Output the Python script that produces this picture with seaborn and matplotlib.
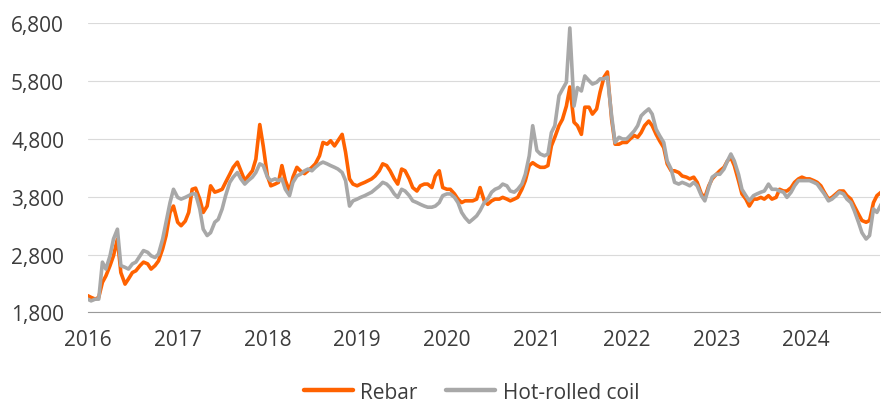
import pandas as pd
import matplotlib.pyplot as plt
import matplotlib.dates as mdates
import matplotlib.ticker as mticker
import seaborn as sns

# semi-monthly readings (1st and 15th of each month), Jan 2016 - Nov 2024
dates = pd.date_range('2016-01-01', '2024-11-01', freq='SMS')

rebar = [
    # 2016
    2090, 2060, 2030, 2060, 2320, 2430, 2610, 2780, 3070, 2490, 2290, 2380,
    2490, 2520, 2610, 2670, 2640, 2550, 2610, 2690, 2900, 3130, 3530, 3640,
    # 2017
    3360, 3300, 3380, 3530, 3930, 3950, 3760, 3530, 3640, 3990, 3880, 3900,
    3930, 4050, 4190, 4310, 4400, 4250, 4080, 4160, 4250, 4450, 5050, 4680,
    # 2018
    4160, 3990, 4020, 4050, 4340, 4080, 3900, 4140, 4310, 4250, 4200, 4250,
    4310, 4370, 4510, 4740, 4710, 4770, 4680, 4770, 4880, 4570, 4110, 4020,
    # 2019
    3990, 4020, 4050, 4080, 4110, 4160, 4250, 4370, 4340, 4250, 4110, 4020,
    4280, 4250, 4110, 3960, 3900, 3990, 4020, 4020, 3960, 4160, 4250, 3960,
    # 2020
    3930, 3930, 3850, 3760, 3700, 3730, 3730, 3730, 3760, 3960, 3730, 3670,
    3730, 3760, 3760, 3790, 3760, 3730, 3760, 3790, 3930, 4080, 4340, 4390,
    # 2021
    4340, 4310, 4310, 4340, 4680, 4830, 5030, 5140, 5370, 5700, 5090, 5030,
    4880, 5350, 5350, 5230, 5320, 5610, 5870, 5960, 5140, 4710, 4710, 4740,
    # 2022
    4740, 4800, 4860, 4830, 4910, 5030, 5110, 5030, 4880, 4770, 4650, 4370,
    4250, 4250, 4220, 4160, 4140, 4110, 4140, 4050, 3850, 3790, 3990, 4110,
    # 2023
    4190, 4250, 4310, 4420, 4480, 4340, 4080, 3850, 3760, 3640, 3760, 3760,
    3790, 3760, 3820, 3760, 3790, 3930, 3900, 3900, 3960, 4050, 4110, 4140,
    # 2024
    4110, 4110, 4080, 4050, 3990, 3880, 3760, 3790, 3850, 3900, 3900, 3820,
    3760, 3640, 3500, 3390, 3360, 3390, 3700, 3820, 3880,
]

hot_rolled = [
    # 2016
    2030, 2000, 2030, 2030, 2670, 2550, 2780, 3070, 3240, 2610, 2580, 2550,
    2640, 2670, 2780, 2870, 2840, 2780, 2750, 2810, 3070, 3360, 3700, 3930,
    # 2017
    3790, 3760, 3790, 3820, 3850, 3850, 3590, 3240, 3130, 3180, 3360, 3410,
    3590, 3820, 4050, 4140, 4220, 4110, 4020, 4080, 4140, 4220, 4370, 4340,
    # 2018
    4140, 4080, 4110, 4080, 4110, 3930, 3820, 4050, 4160, 4190, 4250, 4280,
    4250, 4310, 4370, 4400, 4370, 4340, 4310, 4280, 4220, 4080, 3640, 3730,
    # 2019
    3760, 3790, 3820, 3850, 3880, 3930, 3990, 4050, 4020, 3960, 3850, 3790,
    3930, 3900, 3820, 3730, 3700, 3670, 3640, 3620, 3620, 3640, 3700, 3820,
    # 2020
    3850, 3850, 3790, 3700, 3530, 3440, 3360, 3410, 3470, 3560, 3700, 3760,
    3880, 3930, 3960, 4020, 3990, 3900, 3880, 3930, 4020, 4190, 4510, 5030,
    # 2021
    4600, 4540, 4510, 4540, 4910, 5030, 5550, 5660, 5780, 6720, 5370, 5690,
    5630, 5890, 5810, 5750, 5780, 5840, 5840, 5870, 5200, 4740, 4830, 4800,
    # 2022
    4800, 4860, 4940, 5030, 5200, 5260, 5320, 5230, 4970, 4860, 4740, 4420,
    4280, 4050, 4020, 4050, 4020, 3990, 4050, 3990, 3820, 3730, 3960, 4140,
    # 2023
    4190, 4190, 4280, 4420, 4540, 4420, 4190, 3930, 3820, 3730, 3820, 3850,
    3880, 3900, 4020, 3930, 3930, 3900, 3880, 3790, 3880, 3990, 4080, 4080,
    # 2024
    4080, 4080, 4050, 4020, 3930, 3850, 3730, 3760, 3820, 3880, 3850, 3760,
    3700, 3560, 3360, 3180, 3070, 3130, 3590, 3530, 3670,
]

series_names = ['Rebar', 'Hot-rolled coil']
colors = ['#FF6200', '#A8A8A8']

df = pd.concat([
    pd.DataFrame({'date': dates, 'price': rebar, 'series': series_names[0]}),
    pd.DataFrame({'date': dates, 'price': hot_rolled, 'series': series_names[1]}),
])

sns.set_style('white')
plt.rcParams['font.family'] = ['Open Sans', 'DejaVu Sans']
text_color = '#3C3C3C'

fig, ax = plt.subplots(figsize=(8.81, 4.06), dpi=100)
fig.subplots_adjust(left=0.0995, right=0.999, top=0.94, bottom=0.228)

sns.lineplot(data=df, x='date', y='price', hue='series', hue_order=series_names,
             palette=colors, linewidth=2.6, ax=ax, legend=False)

ax.set_xlim(pd.Timestamp('2016-01-01'), pd.Timestamp('2024-10-28'))
ax.set_ylim(1800, 6800)
ax.set_yticks(range(1800, 6801, 1000))
ax.yaxis.set_major_formatter(mticker.StrMethodFormatter('{x:,.0f}'))
ax.xaxis.set_major_locator(mdates.YearLocator())
ax.xaxis.set_major_formatter(mdates.DateFormatter('%Y'))
ax.set_xlabel('')
ax.set_ylabel('')

ax.grid(axis='y', color='#DADADA', linewidth=0.8)
ax.grid(axis='x', visible=False)
for side in ['top', 'right', 'left']:
    ax.spines[side].set_visible(False)
ax.spines['bottom'].set_color('#9A9A9A')
ax.spines['bottom'].set_linewidth(0.8)

ax.tick_params(axis='y', length=0, pad=17, labelsize=15, labelcolor=text_color)
ax.tick_params(axis='x', length=6, width=0.8, color='#9A9A9A', pad=6,
               labelsize=15, labelcolor=text_color)

handles = [plt.Line2D([], [], color=c, linewidth=3.2) for c in colors]
fig.legend(handles, series_names, loc='center', bbox_to_anchor=(0.535, 0.032),
           ncol=2, frameon=False, fontsize=15, handlelength=2.35,
           handletextpad=0.35, columnspacing=1.4, labelcolor=text_color,
           borderpad=0.2)

fig.savefig('out.png', dpi=100)
